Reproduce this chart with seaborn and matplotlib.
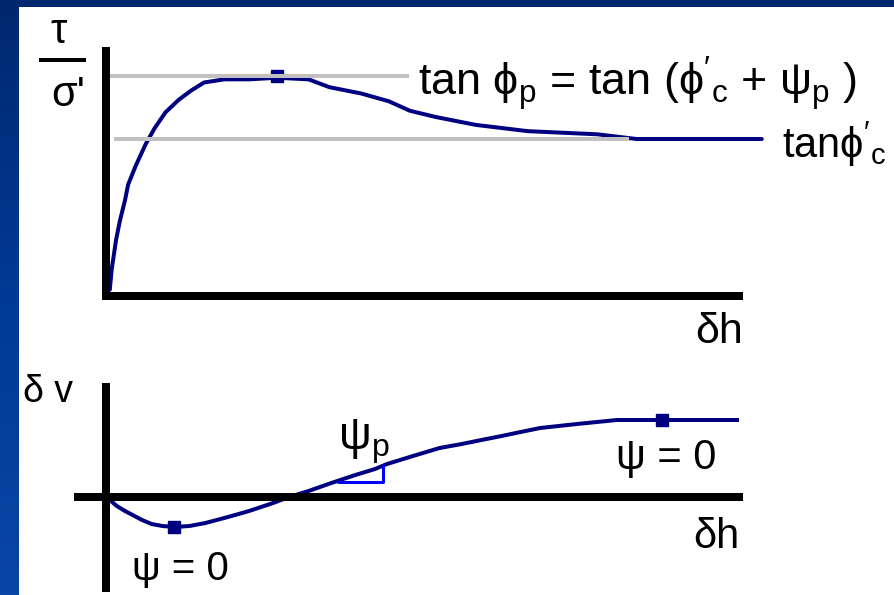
import numpy as np
import matplotlib
matplotlib.use("Agg")
import matplotlib.pyplot as plt
from matplotlib.patches import Rectangle
from matplotlib.colors import LinearSegmentedColormap
import seaborn as sns

# --- shear stress ratio vs horizontal displacement (upper panel) ---
dh_shear = [0.6, 0.9, 1.6, 2.2, 3.0, 3.5, 4.7, 6.3, 7.7, 9.4, 11.5, 13.5, 15.5,
            18.7, 22.6, 27.0, 32.0, 35.3, 40.3, 44.7, 48.0, 52.1, 58.4, 66.6,
            77.6, 83.8, 103.6]
stress_ratio = [0.04, 0.17, 0.36, 0.48, 0.61, 0.71, 0.83, 0.97, 1.07, 1.17, 1.25,
                1.31, 1.36, 1.38, 1.38, 1.39, 1.38, 1.33, 1.29, 1.24, 1.18, 1.14,
                1.09, 1.05, 1.03, 1.00, 1.00]
peak_dh, peak_ratio = [27.0], [1.40]
tan_phi_peak, tan_phi_cv = 1.40, 1.00
peak_line_span = (0.6, 47.9)
cv_line_span = (1.3, 82.6)

# --- vertical vs horizontal displacement (lower panel) ---
dh_dil = [0.6, 1.7, 3.0, 4.2, 5.7, 7.2, 8.9, 10.8, 13.2, 15.7, 18.1, 20.4, 22.6,
          24.5, 26.4, 28.9, 32.0, 35.6, 39.4, 42.5, 44.4, 48.5, 52.7, 56.2,
          59.3, 62.5, 65.5, 68.6, 74.4, 80.7, 100.0]
dv_dil = [-0.03, -0.09, -0.14, -0.18, -0.23, -0.27, -0.29, -0.30, -0.29, -0.26,
          -0.22, -0.18, -0.14, -0.10, -0.06, 0.00, 0.06, 0.14, 0.22, 0.28, 0.33,
          0.41, 0.49, 0.53, 0.57, 0.61, 0.65, 0.69, 0.73, 0.77, 0.77]
zero_dil_dh = [10.8, 87.9]
zero_dil_dv = [-0.30, 0.77]
slope_dh = [36.6, 43.8, 43.8]
slope_dv = [0.15, 0.15, 0.31]

NAVY = "#000080"
GREY = "#c0c0c0"
W, H = 895, 595

sns.set_theme(style="white")
plt.rcParams["font.family"] = ["Liberation Sans", "DejaVu Sans"]
plt.rcParams["mathtext.fontset"] = "custom"
plt.rcParams["mathtext.rm"] = "Liberation Sans"
plt.rcParams["mathtext.it"] = "Liberation Sans"
plt.rcParams["mathtext.default"] = "regular"

fig = plt.figure(figsize=(W / 100, H / 100), dpi=100)


def add_axes_px(left, top, right, bottom):
    return fig.add_axes([left / W, 1 - bottom / H, (right - left) / W, (bottom - top) / H])


# slide background: blue gradient frame with white panel
bg = fig.add_axes([0, 0, 1, 1])
bg.set_xlim(0, W)
bg.set_ylim(H, 0)
bg.axis("off")
cmap = LinearSegmentedColormap.from_list("frame", ["#00286e", "#003a96", "#0a46a4"])
bg.imshow(np.linspace(0, 1, 256).reshape(-1, 1), cmap=cmap, aspect="auto",
          extent=(0, W, H, 0), zorder=0)
bg.add_patch(Rectangle((19, 7), W - 19, H - 7, facecolor="white", edgecolor="none", zorder=1))

SPINE_W = 8 * 0.72
LINE_W = 4 * 0.72
MS = 12 * 0.72

# upper panel
ax1 = add_axes_px(106, 51, 739, 296)
ax1.set_facecolor("none")
ax1.set_xlim(0, 100)
ax1.set_ylim(0, (296 - 51) / 157)
sns.lineplot(x=dh_shear, y=stress_ratio, ax=ax1, color=NAVY, lw=LINE_W, zorder=2)
ax1.lines[-1].set_clip_on(False)
ax1.plot(peak_dh, peak_ratio, marker="s", ms=MS, color=NAVY, ls="none", zorder=2)
ax1.hlines(tan_phi_peak, *peak_line_span, color=GREY, lw=LINE_W, zorder=3)
ax1.hlines(tan_phi_cv, *cv_line_span, color=GREY, lw=LINE_W, zorder=3)
for s in ("top", "right"):
    ax1.spines[s].set_visible(False)
for s in ("left", "bottom"):
    ax1.spines[s].set_linewidth(SPINE_W)
    ax1.spines[s].set_color("black")
ax1.set_xticks([])
ax1.set_yticks([])

# lower panel
ax2 = add_axes_px(78, 387, 739, 588)
ax2.set_facecolor("none")
ax2.set_xlim(-28 / 6.33, 100)
ax2.set_ylim((497 - 588) / 100, (497 - 387) / 100)
sns.lineplot(x=dh_dil, y=dv_dil, ax=ax2, color=NAVY, lw=LINE_W, zorder=2)
ax2.plot(zero_dil_dh, zero_dil_dv, marker="s", ms=MS, color=NAVY, ls="none", zorder=2)
ax2.plot(slope_dh, slope_dv, color="#0000ff", lw=3 * 0.72, zorder=3)
for s in ("top", "right"):
    ax2.spines[s].set_visible(False)
for s in ("left", "bottom"):
    ax2.spines[s].set_linewidth(SPINE_W)
    ax2.spines[s].set_color("black")
    ax2.spines[s].set_position(("data", 0))
ax2.set_xticks([])
ax2.set_yticks([])

# labels
txt = dict(color="black", zorder=5)
bg.text(59, 43, "τ", fontsize=30, ha="center", va="baseline", **txt)
bg.plot([39, 86], [60, 60], color="black", lw=4 * 0.72, solid_capstyle="butt", zorder=5)
bg.text(68, 106, "σ'", fontsize=30, ha="center", va="baseline", **txt)
bg.text(418, 95, r"tan $\phi_p$ = tan ($\phi'_c$ + $\psi_p$ )", fontsize=32.3,
        ha="left", va="baseline", **txt)
bg.text(782, 158, r"tan$\phi'_c$", fontsize=30, ha="left", va="baseline", **txt)
bg.text(743, 343, "δh", fontsize=31, ha="right", va="baseline", **txt)
bg.text(23, 402, "δ v", fontsize=27, ha="left", va="baseline", **txt)
bg.text(338, 450, r"$\psi_p$", fontsize=33, ha="left", va="baseline", **txt)
bg.text(666, 469, "ψ = 0", fontsize=30, ha="center", va="baseline", **txt)
bg.text(740, 548, "δh", fontsize=30, ha="right", va="baseline", **txt)
bg.text(180, 580, "ψ = 0", fontsize=29, ha="center", va="baseline", **txt)

fig.savefig("out.png", dpi=100)
